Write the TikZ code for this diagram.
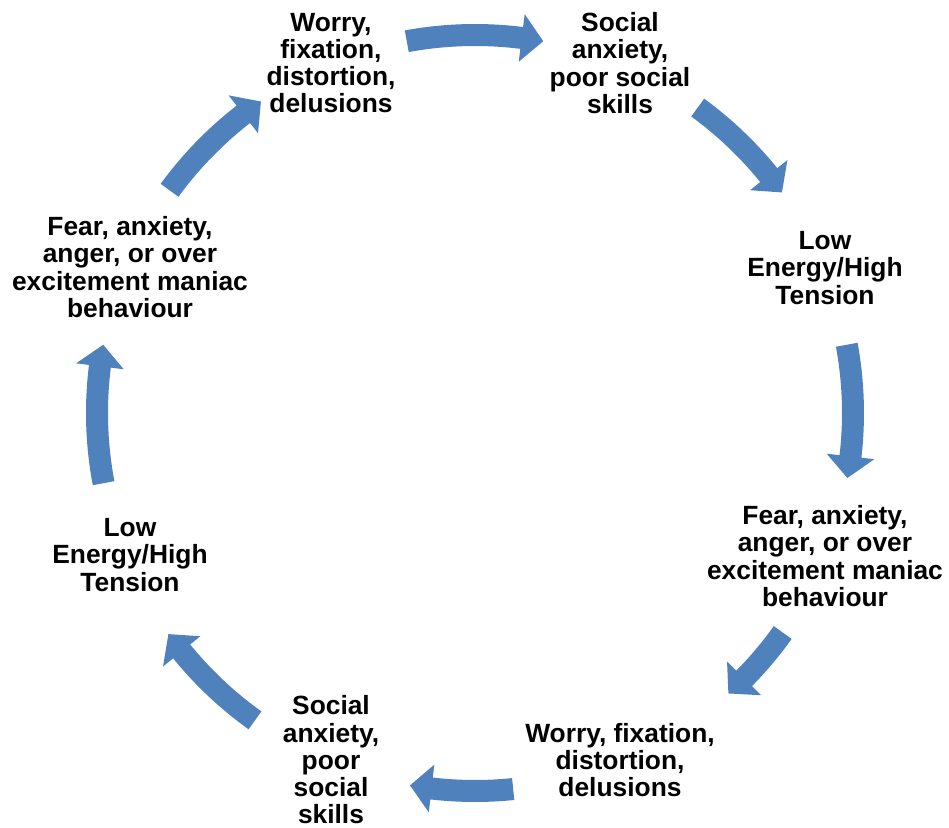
\documentclass[tikz,border=0pt]{standalone}
\usepackage{fontspec}
\setmainfont{Liberation Sans}
\definecolor{cycleblue}{RGB}{79,129,189}
\tikzset{
	steplabel/.style={font=\fontsize{15}{15.5}\selectfont\bfseries, align=center},
	arrowfill/.style={fill=cycleblue}
}
\begin{document}
\begin{tikzpicture}[scale=1]
		
		% Frame
		\useasboundingbox (-9.5,-8.3) rectangle (9.48,8.26);
		
		% Top labels
		\node[steplabel] (worryA) at (-2.88,7.0) {Worry,\\fixation,\\distortion,\\delusions};
		\node[steplabel] (socialA) at (2.9,7.0) {Social\\anxiety,\\poor social\\skills};
		
		% Right labels
		\node[steplabel] (lowA) at (7.0,2.9) {Low\\Energy/High\\Tension};
		\node[steplabel] (fearA) at (7.0,-2.86) {Fear, anxiety,\\anger, or over\\excitement maniac\\behaviour};
		
		% Bottom labels
		\node[steplabel] (worryB) at (2.9,-6.94) {Worry, fixation,\\distortion,\\delusions};
		\node[steplabel] (socialB) at (-2.88,-6.94) {Social\\anxiety,\\poor\\social\\skills};
		
		% Left labels
		\node[steplabel] (lowB) at (-6.9,-2.84) {Low\\Energy/High\\Tension};
		\node[steplabel] (fearB) at (-6.9,2.92) {Fear, anxiety,\\anger, or over\\excitement maniac\\behaviour};
		
		% Block arrows round the circle (start angle / tip angle)
		\foreach \a/\b in {100.4/79.6, 53.9/35.7, 10.4/-9.9, -35.5/-47.9,
			-84.2/-99.9, 234.4/215.8, 190.7/169.6, 143.9/124.5}
		{
			\pgfmathsetmacro{\hb}{\b+3.3}
			\fill[arrowfill] (\a:7.78) arc[start angle=\a, end angle=\hb, radius=7.78]
				-- (\hb:8.04) -- (\b:7.56) -- (\hb:7.08) -- (\hb:7.34)
				arc[start angle=\hb, end angle=\a, radius=7.34] -- cycle;
		}
		
	\end{tikzpicture}
\end{document}
